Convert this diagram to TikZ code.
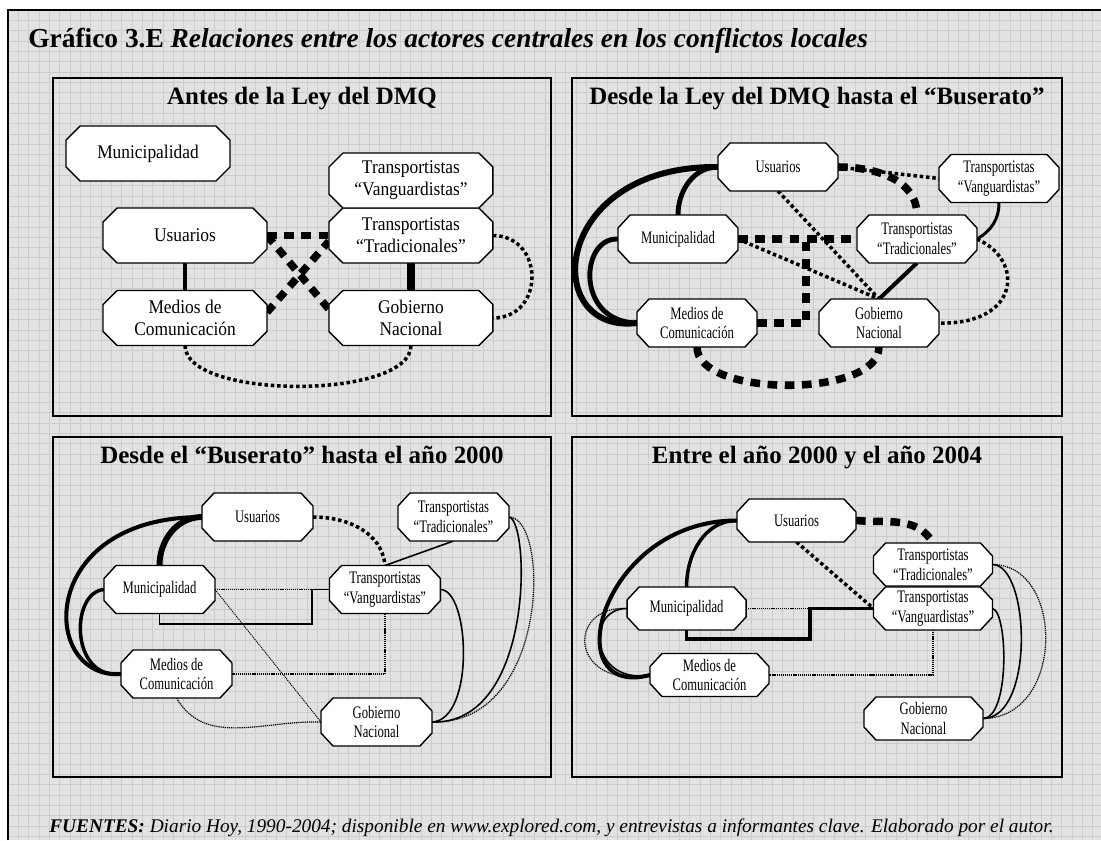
\documentclass[tikz,border=0pt]{standalone}
\usepackage{fontspec}
\setmainfont{Liberation Serif}
\newfontfamily\grandefont[FakeStretch=0.9]{Liberation Serif}
\newfontfamily\chicafont[FakeStretch=0.72]{Liberation Serif}
\usetikzlibrary{positioning,backgrounds}
\definecolor{fondo}{RGB}{226,226,226}
\definecolor{rejilla}{RGB}{204,204,204}
\makeatletter
\newdimen\ocxa \newdimen\ocxb \newdimen\ocya \newdimen\ocyb
\pgfkeys{/pgf/corte x/.initial=0.28cm, /pgf/corte y/.initial=0.28cm}
\pgfdeclareshape{octogono}{%
  \inheritsavedanchors[from=rectangle]%
  \inheritanchorborder[from=rectangle]%
  \inheritanchor[from=rectangle]{center}%
  \inheritanchor[from=rectangle]{north}%
  \inheritanchor[from=rectangle]{south}%
  \inheritanchor[from=rectangle]{east}%
  \inheritanchor[from=rectangle]{west}%
  \inheritanchor[from=rectangle]{base}%
  \inheritanchor[from=rectangle]{mid}%
  \backgroundpath{%
    \pgfmathsetlength\pgf@xc{\pgfkeysvalueof{/pgf/corte x}}%
    \pgfmathsetlength\pgf@yc{\pgfkeysvalueof{/pgf/corte y}}%
    \southwest \pgf@xa=\pgf@x \pgf@ya=\pgf@y
    \northeast \pgf@xb=\pgf@x \pgf@yb=\pgf@y
    \ocxa=\pgf@xa \advance\ocxa by \pgf@xc
    \ocxb=\pgf@xb \advance\ocxb by -\pgf@xc
    \ocya=\pgf@ya \advance\ocya by \pgf@yc
    \ocyb=\pgf@yb \advance\ocyb by -\pgf@yc
    \pgfpathmoveto{\pgfqpoint{\ocxa}{\pgf@ya}}%
    \pgfpathlineto{\pgfqpoint{\ocxb}{\pgf@ya}}%
    \pgfpathlineto{\pgfqpoint{\pgf@xb}{\ocya}}%
    \pgfpathlineto{\pgfqpoint{\pgf@xb}{\ocyb}}%
    \pgfpathlineto{\pgfqpoint{\ocxb}{\pgf@yb}}%
    \pgfpathlineto{\pgfqpoint{\ocxa}{\pgf@yb}}%
    \pgfpathlineto{\pgfqpoint{\pgf@xa}{\ocyb}}%
    \pgfpathlineto{\pgfqpoint{\pgf@xa}{\ocya}}%
    \pgfpathclose
  }%
}
\makeatother
\begin{document}
\begin{tikzpicture}[x=0.02cm, y=-0.02cm,
  actor/.style={shape=octogono, draw, fill=white, line width=0.8pt, inner sep=0pt, outer sep=0pt, align=center},
  actorg/.style={actor, minimum width=3.28cm, minimum height=1.1cm, corte x=0.28cm, corte y=0.28cm, font=\grandefont\fontsize{11}{12.5}\selectfont},
  actorp/.style={actor, minimum width=2.4cm, minimum height=0.96cm, corte x=0.24cm, corte y=0.26cm, font=\chicafont\fontsize{10}{11.3}\selectfont},
  panel/.style={draw, line width=1.2pt},
  titulo/.style={font=\bfseries\fontsize{14.2}{16}\selectfont, anchor=base, inner sep=0pt},
  fuerte/.style={line width=3.4pt},
  media/.style={line width=2.3pt},
  debil/.style={line width=0.9pt},
  conflicto/.style={line width=4.3pt, dash pattern=on 5.5pt off 4.3pt},
  roce/.style={line width=2pt, dash pattern=on 2pt off 1.6pt},
  leve/.style={line width=0.7pt, dash pattern=on 0.7pt off 0.5pt}
]
\useasboundingbox (0,0) rectangle (1101,840);
\begin{scope}[on background layer]
\fill[fondo] (8,10) rectangle (1101,840);
\foreach \i in {0,...,105} \draw[rejilla, line width=0.5pt] ({8+10.33*\i},10) -- ({8+10.33*\i},840);
\foreach \j in {0,...,80} \draw[rejilla, line width=0.5pt] (8,{10+10.33*\j}) -- (1101,{10+10.33*\j});
\draw[line width=1.3pt] (8,840) -- (8,10) -- (1101,10);
\draw[panel] (53,78) rectangle (551,416);
\draw[panel] (572,78) rectangle (1062,416);
\draw[panel] (53,437) rectangle (551,777);
\draw[panel] (572,437) rectangle (1062,777);
\end{scope}

\node[anchor=base west, inner sep=0pt, font=\fontsize{15.6}{18}\selectfont] (grafico) at (28,47) {\textbf{Gráfico 3.E} \textbf{\itshape Relaciones entre los actores centrales en los conflictos locales}};
\node[titulo] (tit1) at (302,104) {Antes de la Ley del DMQ};
\node[titulo] (tit2) at (817,104) {Desde la Ley del DMQ hasta el “Buserato”};
\node[titulo] (tit3) at (302,463) {Desde el “Buserato” hasta el año 2000};
\node[titulo] (tit4) at (817,463) {Entre el año 2000 y el año 2004};
\node[anchor=base west, inner sep=0pt, font=\itshape\fontsize{11}{12}\selectfont] (fuentes) at (49,832) {\textbf{FUENTES:} Diario Hoy, 1990-2004; disponible en www.explored.com, y entrevistas a informantes clave. Elaborado por el autor.};

\node[actorg] (mun1) at (148,153.5) {Municipalidad};
\node[actorg] (usu1) at (185,235.5) {Usuarios};
\node[actorg, right of=usu1, node distance=4.52cm] (tra1) {Transportistas\\“Tradicionales”};
\node[actorg, above of=tra1, node distance=1.1cm] (van1) {Transportistas\\“Vanguardistas”};
\node[actorg, below of=usu1, node distance=1.65cm] (med1) {Medios de\\Comunicación};
\node[actorg, right of=med1, node distance=4.52cm] (gob1) {Gobierno\\Nacional};

\node[actorp] (usu2) at (778,167) {Usuarios};
\node[actorp] (van2) at (999,178.5) {Transportistas\\“Vanguardistas”};
\node[actorp] (mun2) at (678,239) {Municipalidad};
\node[actorp, right of=mun2, node distance=4.78cm] (tra2) {Transportistas\\“Tradicionales”};
\node[actorp] (med2) at (697,323) {Medios de\\Comunicación};
\node[actorp, right of=med2, node distance=3.64cm] (gob2) {Gobierno\\Nacional};

\begin{scope}[actorp/.append style={minimum width=2.22cm}]
\node[actorp] (usu3) at (257.5,517) {Usuarios};
\node[actorp, right of=usu3, node distance=3.92cm] (tra3) {Transportistas\\“Tradicionales”};
\node[actorp] (mun3) at (159.5,589.5) {Municipalidad};
\node[actorp, right of=mun3, node distance=4.51cm] (van3) {Transportistas\\“Vanguardistas”};
\node[actorp] (med3) at (176.5,674) {Medios de\\Comunicación};
\node[actorp] (gob3) at (376.5,722) {Gobierno\\Nacional};
\end{scope}

\begin{scope}[actorp/.append style={minimum width=2.38cm, minimum height=0.86cm}]
\node[actorp] (usu4) at (796.5,520.5) {Usuarios};
\node[actorp] (tra4) at (933,564.5) {Transportistas\\“Tradicionales”};
\node[actorp, below of=tra4, node distance=0.88cm] (van4) {Transportistas\\“Vanguardistas”};
\node[actorp, left of=van4, node distance=4.93cm] (mun4) {Municipalidad};
\node[actorp] (med4) at (709.5,675) {Medios de\\Comunicación};
\node[actorp] (gob4) at (923.5,718.5) {Gobierno\\Nacional};
\end{scope}

\coordinate (cruce2) at (806,239);
\coordinate (codo3) at (312,624);
\coordinate (codo4) at (810,639);

\begin{scope}[on background layer]
\draw[line width=2.8pt] (usu1.south) -- (med1.north);
\draw[line width=4.5pt] (tra1.south) -- (gob1.north);
\draw[conflicto] (usu1.east) -- (tra1.west);
\draw[conflicto] (usu1.east) -- (gob1.174);
\draw[conflicto] (med1.4) -- (tra1.184);
\draw[roce] (tra1.east) .. controls (545,236) and (545,318) .. (gob1.east);
\draw[roce] (med1.south) .. controls (185,400) and (411,400) .. (gob1.south);

\draw[fuerte] (usu2.west) .. controls (550,165) and (540,335) .. (med2.west);
\draw[line width=2.8pt] (usu2.west) to[out=180,in=90] (mun2.north);
\draw[line width=2.8pt] (mun2.west) .. controls (580,237) and (575,322) .. (med2.west);
\draw[conflicto] (mun2.east) -- (tra2.west);
\draw[conflicto] (med2.east) -| (cruce2);
\draw[conflicto] (usu2.east) to[out=0,in=90] (tra2.north);
\draw[roce] (usu2.east) -- (van2.west);
\draw[roce] (usu2.south) -- (gob2.north);
\draw[roce] (mun2.east) -- (gob2.north);
\draw[media] (tra2.south) -- (gob2.north);
\draw[line width=1.7pt] (van2.south) to[out=-90,in=30] (tra2.east);
\draw[roce] (tra2.east) .. controls (1025,260) and (1020,325) .. (gob2.east);
\draw[conflicto] (med2.south) .. controls (697,398) and (879,398) .. (gob2.south);

\draw[fuerte] (usu3.west) to[out=180,in=90] (mun3.north);
\draw[media] (usu3.west) .. controls (35,517) and (40,680) .. (med3.west);
\draw[line width=2pt] (mun3.west) .. controls (70,592) and (70,680) .. (med3.west);
\draw[roce] (usu3.east) to[out=0,in=95] (van3.north);
\draw[debil] (tra3.south) -- (van3.north);
\draw[leve] (mun3.east) -- (van3.west);
\draw[debil] (mun3.south) |- (codo3) |- (van3.west);
\draw[leve] (van3.south) |- (med3.east);
\draw[leve, line width=0.5pt] (mun3.east) -- (gob3.west);
\draw[leve] (med3.south) to[out=-60,in=178] (gob3.west);
\draw[debil] (van3.east) .. controls (470,590) and (475,720) .. (gob3.east);
\draw[debil] (tra3.east) .. controls (530,520) and (535,725) .. (gob3.east);
\draw[leve] (tra3.east) .. controls (550,517) and (550,725) .. (gob3.east);

\draw[media] (usu4.west) .. controls (600,520) and (555,700) .. (med4.west);
\draw[line width=2pt] (usu4.west) to[out=180,in=90] (mun4.north);
\draw[conflicto] (usu4.east) to[out=-5,in=120] (tra4.north);
\draw[roce] (usu4.south) -- (van4.west);
\draw[leve] (mun4.east) -- (van4.west);
\draw[line width=1.8pt] (mun4.south) |- (codo4) |- (van4.west);
\draw[leve] (van4.south) |- (med4.east);
\draw[debil] (mun4.west) .. controls (585,608) and (590,685) .. (med4.west);
\draw[leve] (mun4.west) .. controls (565,605) and (570,690) .. (med4.west);
\draw[debil] (tra4.east) .. controls (1030,565) and (1035,718) .. (gob4.east);
\draw[leve] (tra4.east) .. controls (1065,565) and (1065,718) .. (gob4.east);
\draw[debil] (van4.east) .. controls (1008,612) and (1010,718) .. (gob4.east);
\end{scope}
\end{tikzpicture}
\end{document}
